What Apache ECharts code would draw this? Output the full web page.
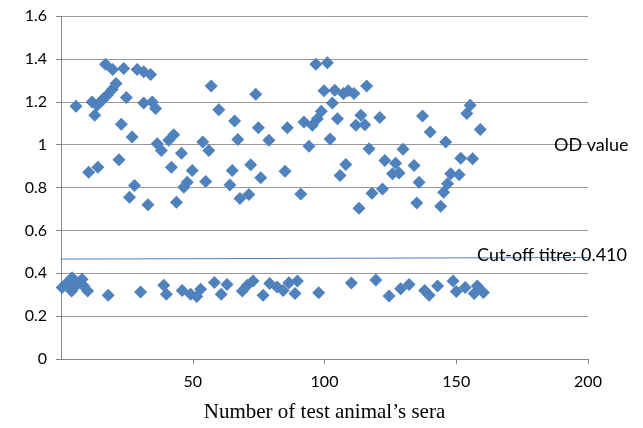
<!DOCTYPE html>
<html>
<head>
<meta charset="utf-8">
<script src="https://cdn.jsdelivr.net/npm/echarts@6/dist/echarts.min.js"></script>
<style>
  html, body { margin: 0; padding: 0; background: #fff; }
  #main { width: 643px; height: 428px; }
</style>
</head>
<body>
<div id="main"></div>
<script>
// sample number / OD value
let sampleNo = [
    0.4, 2.3, 4.2, 4, 6.1, 8, 8.6, 10.1, 17.9, 30.2, 39, 40, 46, 49.2, 51.5, 53,
    58.2, 60.8, 63, 68.8, 70.7, 72.9, 76.7, 79.2, 82, 84.3, 86.5, 88.8, 89.7, 97.8,
    110.2, 119.5, 124.5, 128.9, 132.1, 138, 139.7, 142.9, 148.8, 150, 153.4, 156.8, 158, 160.3,
    5.7, 10.5, 11.8, 12.8, 13.7, 14, 15, 16.2, 16.9, 17.5, 19.4, 19.6, 20.9, 22, 22.9, 23.8,
    24.8, 26, 27, 27.9, 28.9, 31.4, 31.4, 33, 34, 34.6, 35.9, 36.5, 38.1, 40.9, 41.9, 42.8,
    43.8, 45.7, 46.6, 47.9, 49.8, 53.8, 54.9, 56.1, 57, 59.9, 64.1, 65, 65.9, 67.1, 67.9, 71.3,
    72, 73.9, 74.9, 75.8, 78.9, 85, 85.9, 91, 92.2, 94.1, 95.4, 96.7, 97.3, 98.8, 99.8, 101.1,
    102.1, 103, 103.9, 104.9, 105.9, 107.2, 108.1, 109, 111.2, 111.9, 113.1, 113.8, 115.3, 116, 116.9, 118,
    121, 122, 122.9, 125.8, 127, 128.3, 129.8, 134, 135, 135.9, 137.2, 140.1, 144.1, 145.2, 146, 146.7,
    147.9, 151.1, 151.7, 154, 155.3, 156.2, 159.1
];
let odValue = [
    0.333, 0.356, 0.379, 0.317, 0.348, 0.372, 0.34, 0.317, 0.297, 0.312, 0.344, 0.302, 0.32, 0.302, 0.292, 0.325,
    0.357, 0.302, 0.348, 0.317, 0.344, 0.364, 0.297, 0.352, 0.336, 0.32, 0.356, 0.305, 0.364, 0.309,
    0.354, 0.368, 0.294, 0.328, 0.348, 0.32, 0.297, 0.34, 0.364, 0.315, 0.333, 0.306, 0.34, 0.31,
    1.179, 0.871, 1.199, 1.137, 1.184, 0.895, 1.2, 1.215, 1.375, 1.23, 1.257, 1.351, 1.285, 0.929, 1.095, 1.355,
    1.22, 0.754, 1.035, 0.809, 1.351, 1.34, 1.194, 0.72, 1.327, 1.199, 1.168, 1.004, 0.973, 1.02, 0.895, 1.046,
    0.731, 0.96, 0.801, 0.824, 0.879, 1.012, 0.828, 0.973, 1.274, 1.163, 0.812, 0.879, 1.11, 1.024, 0.749, 0.767,
    0.906, 1.235, 1.079, 0.845, 1.02, 0.876, 1.079, 0.77, 1.105, 0.992, 1.09, 1.375, 1.121, 1.156, 1.251, 1.382,
    1.026, 1.194, 1.254, 1.121, 0.856, 1.238, 0.907, 1.251, 1.238, 1.09, 0.703, 1.137, 1.093, 1.273, 0.981, 0.773,
    1.127, 0.793, 0.926, 0.864, 0.913, 0.868, 0.978, 0.903, 0.728, 0.824, 1.133, 1.059, 0.712, 0.778, 1.012, 0.817,
    0.864, 0.86, 0.937, 1.145, 1.184, 0.934, 1.07
];
// cut-off line as drawn (slightly tilted in the original)
let cutX = [0, 215];
let cutY = [0.466, 0.474];
let xTicks = [0, 50, 100, 150, 200];
let yTicks = [0, 0.2, 0.4, 0.6, 0.8, 1, 1.2, 1.4, 1.6];

let blue = '#4f81bd';
let font = 'Lato';

const myChart = echarts.init(document.getElementById('main'));

const points = sampleNo.map(function (x, i) { return [x, odValue[i]]; });
const cutLine = cutX.map(function (x, i) { return [x, cutY[i]]; });

const option = {
    animation: false,
    grid: {
        left: 61,
        right: 55,
        top: 16,
        bottom: 66
    },
    xAxis: {
        type: 'value',
        min: xTicks[0],
        max: xTicks[xTicks.length - 1],
        interval: 50,
        name: 'Number of test animal\u2019s sera',
        nameLocation: 'middle',
        nameGap: 43,
        nameTextStyle: { fontFamily: 'Liberation Serif', fontSize: 21, color: '#000' },
        axisLine: { lineStyle: { color: '#868686' } },
        axisTick: { show: true, length: 5, lineStyle: { color: '#868686' } },
        splitLine: { show: false },
        axisLabel: {
            fontFamily: font, fontSize: 16, color: '#000', margin: 15,
            showMinLabel: false
        }
    },
    yAxis: {
        type: 'value',
        min: yTicks[0],
        max: yTicks[yTicks.length - 1],
        interval: 0.2,
        axisLine: { show: true, lineStyle: { color: '#868686' } },
        axisTick: { show: true, length: 5, lineStyle: { color: '#868686' } },
        splitLine: { lineStyle: { color: '#9a9a9a' } },
        axisLabel: { fontFamily: font, fontSize: 16, color: '#000', margin: 14 }
    },
    graphic: [
        {
            type: 'text', left: 554, top: 136, z: 100,
            style: { text: 'OD value', fontFamily: font, fontSize: 18, fill: '#000' }
        },
        {
            type: 'text', left: 477, top: 246, z: 100,
            style: { text: 'Cut-off titre: 0.410', fontFamily: font, fontSize: 18, fill: '#000' }
        }
    ],
    series: [
        {
            name: 'OD value',
            type: 'scatter',
            symbol: 'diamond',
            symbolSize: 13,
            itemStyle: { color: blue, opacity: 1 },
            data: points
        },
        {
            name: 'Cut-off',
            type: 'line',
            clip: false,
            symbol: 'none',
            lineStyle: { color: blue, width: 1 },
            data: cutLine,
            z: 1
        }
    ]
};

if (option && typeof option === "object") {
    myChart.setOption(option, true);
}
</script>
</body>
</html>
